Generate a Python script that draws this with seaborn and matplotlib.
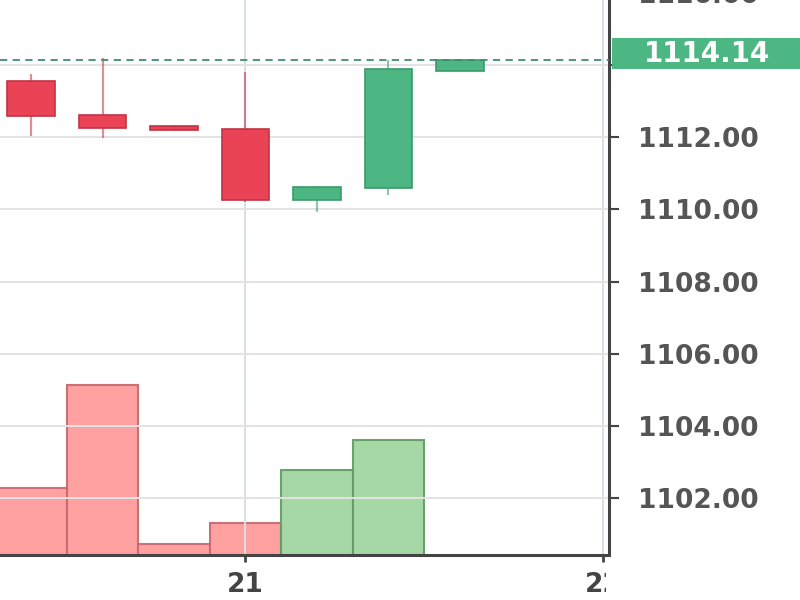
import matplotlib
matplotlib.use("Agg")
import matplotlib.pyplot as plt
import matplotlib.transforms as mtransforms
from matplotlib.patches import Rectangle
import seaborn as sns

# candle data (price)
opens = [1113.56, 1112.61, 1112.31, 1112.22, 1110.25, 1110.58, 1113.83]
highs = [1113.75, 1114.19, 1112.33, 1113.81, 1110.65, 1114.14, 1114.14]
lows = [1112.03, 1111.97, 1112.17, 1110.20, 1109.92, 1110.39, 1113.83]
closes = [1112.58, 1112.25, 1112.19, 1110.25, 1110.61, 1113.89, 1114.14]
volumes = [2680, 6800, 440, 1280, 3400, 4600]
last_price = 1114.14
day_ticks = [3, 8]
day_labels = ["21", "22"]
price_ticks = [1102, 1104, 1106, 1108, 1110, 1112, 1114, 1116]

RED = "#ea4356"
RED_EDGE = "#c23344"
GREEN = "#4cb782"
GREEN_EDGE = "#3a9a6a"
VOL_RED = "#ff9c9c"
VOL_RED_EDGE = "#c96a72"
VOL_GREEN = "#a0d6a0"
VOL_GREEN_EDGE = "#649c68"

sns.set_style("white")
fig = plt.figure(figsize=(8, 6), dpi=100)
ax = fig.add_axes([0.0, 0.075, 609 / 800, 0.95])
ax2 = ax.twinx()
ax.set_zorder(ax2.get_zorder() + 1)
ax.patch.set_visible(False)
ax2.patch.set_facecolor("white")

# volume bars (background)
for i, v in enumerate(volumes):
    up = closes[i] >= opens[i]
    ax2.bar(i, v, width=1.0, color=VOL_GREEN if up else VOL_RED,
            edgecolor=VOL_GREEN_EDGE if up else VOL_RED_EDGE, linewidth=1.5,
            alpha=0.95)
ax2.set_ylim(0, 22800)
ax2.set_yticks([])
for s in ax2.spines.values():
    s.set_visible(False)

# candles
for i in range(len(opens)):
    up = closes[i] >= opens[i]
    col = GREEN if up else RED
    edge = GREEN_EDGE if up else RED_EDGE
    ax.vlines(i, lows[i], highs[i], color=edge, alpha=0.55, linewidth=1.6, zorder=2)
    lo, hi = min(opens[i], closes[i]), max(opens[i], closes[i])
    ax.bar(i, hi - lo, bottom=lo, width=0.67, color=col, edgecolor=edge,
           linewidth=1.2, zorder=3)

ax.axhline(last_price, color="#3f8f6c", linestyle=(0, (4, 3)), linewidth=1.3, zorder=4)

ax.set_xlim(-0.434, 8.085)
ax.set_ylim(1100.42, 1116.22)

ax.yaxis.tick_right()
ax.set_yticks(price_ticks)
# the 1114 label sits under the last-price tag
ax.set_yticklabels(["" if p == 1114 else f"{p:.2f}" for p in price_ticks])
ax.set_xticks(day_ticks)
ax.set_xticklabels(day_labels)
ax.tick_params(axis="y", which="both", right=True, left=False, direction="out",
               length=7, width=1.5, color="#444444", pad=14,
               labelsize=19, labelcolor="#555555")
ax.tick_params(axis="x", bottom=True, direction="out", length=5, width=2,
               color="#444444", pad=7, labelsize=19, labelcolor="#444444")
for lbl in ax.get_yticklabels() + ax.get_xticklabels():
    lbl.set_fontweight("bold")

ax.grid(True, axis="y", color="#e3e3e3", linewidth=1.4)
ax.grid(True, axis="x", color="#d6e0e6", linewidth=1.4)
ax.set_axisbelow(True)

for name in ["left", "top"]:
    ax.spines[name].set_visible(False)
for name in ["bottom", "right"]:
    ax.spines[name].set_visible(True)
    ax.spines[name].set_color("#444444")
    ax.spines[name].set_linewidth(2.2)

# last price tag on the axis
blend = mtransforms.blended_transform_factory(fig.transFigure, ax.transData)
tag = Rectangle((612 / 800, last_price - 0.25), 1.0, 0.86, transform=blend,
                facecolor=GREEN, edgecolor="none", clip_on=False, zorder=5)
ax.add_patch(tag)
ax.text(707 / 800, last_price + 0.18, f"{last_price:.2f}", transform=blend,
        ha="center", va="center", color="white", fontsize=20,
        fontweight="bold", clip_on=False, zorder=6)

# x labels are cut at the right edge of the plot
clip = mtransforms.TransformedBbox(mtransforms.Bbox([[0, 0], [606 / 800, 1]]),
                                   fig.transFigure)
for lbl in ax.get_xticklabels():
    lbl.set_clip_on(True)
    lbl.set_clip_box(clip)

fig.savefig("out.png", dpi=100)
